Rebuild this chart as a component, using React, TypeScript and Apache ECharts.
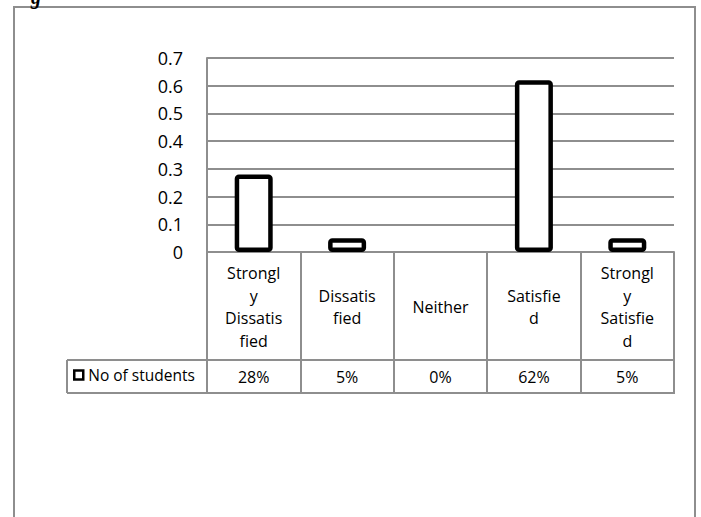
import React, { useEffect, useRef } from "react";
import * as echarts from "echarts";

// Satisfaction survey: share of students per response
const categoryLabels = [
  "Strongl\ny\nDissatis\nfied",
  "Dissatis\nfied",
  "Neither",
  "Satisfie\nd",
  "Strongl\ny\nSatisfie\nd",
];
const studentShares = [0.28, 0.05, 0, 0.62, 0.05];
const seriesName = "No of students";
const yMin = 0;
const yMax = 0.7;
const yStep = 0.1;

const FONT = "'Open Sans', Lato, sans-serif";
const GRID = "#8e8e8e";

export default function App() {
  const ref = useRef<HTMLDivElement>(null);

  useEffect(() => {
    if (!ref.current) return;
    const chart = echarts.init(ref.current, undefined, { renderer: "svg" });

    const percentLabels = studentShares.map((v) => `${Math.round(v * 100)}%`);

    const gridLeft = 207;
    const gridRight = 674;
    const axisY = 252;
    const rowSplitY = 360;
    const tableBottomY = 393;
    const legendCellLeft = 67;

    chart.setOption({
      animation: false,
      backgroundColor: "#fff",
      grid: {
        left: gridLeft,
        right: 701 - gridRight,
        top: 58,
        bottom: 517 - axisY,
        containLabel: false,
      },
      legend: {
        data: [seriesName],
        left: 73,
        top: 367,
        padding: 0,
        icon: "rect",
        itemWidth: 9,
        itemHeight: 9,
        itemStyle: { color: "#fff", borderColor: "#000", borderWidth: 2.5 },
        textStyle: { fontFamily: FONT, fontSize: 15.5, color: "#000", padding: [0, 0, 0, 0] },
      },
      xAxis: [
        {
          type: "category",
          data: categoryLabels,
          axisLine: { show: true, lineStyle: { color: GRID, width: 2 } },
          axisTick: {
            show: true,
            interval: 0,
            length: tableBottomY - axisY,
            lineStyle: { color: GRID, width: 2 },
          },
          axisLabel: {
            interval: 0,
            margin: 55,
            verticalAlign: "middle",
            lineHeight: 22.5,
            fontFamily: FONT,
            fontSize: 16,
            color: "#000",
          },
          splitLine: { show: false },
        },
        {
          type: "category",
          position: "bottom",
          data: percentLabels,
          axisLine: { show: false },
          axisTick: { show: false },
          axisLabel: {
            interval: 0,
            margin: 125,
            verticalAlign: "middle",
            fontFamily: FONT,
            fontSize: 16,
            color: "#000",
          },
          splitLine: { show: false },
        },
      ],
      yAxis: {
        type: "value",
        min: yMin,
        max: yMax,
        interval: yStep,
        axisLine: { show: true, lineStyle: { color: GRID, width: 2 } },
        axisTick: { show: false },
        splitLine: { show: true, lineStyle: { color: GRID, width: 2 } },
        axisLabel: {
          margin: 24,
          fontFamily: FONT,
          fontSize: 18,
          color: "#000",
          formatter: (v: number) => (v === 0 ? "0" : v.toFixed(1)),
        },
      },
      series: [
        {
          name: seriesName,
          type: "bar",
          xAxisIndex: 0,
          barWidth: 38,
          itemStyle: {
            color: "#fff",
            borderColor: "#000",
            borderWidth: 4.5,
            borderRadius: 2,
          },
          data: studentShares.map((v) =>
            v === 0 ? { value: v, itemStyle: { borderWidth: 0 } } : v
          ),
        },
      ],
      graphic: [
        // page frame
        {
          type: "polyline",
          silent: true,
          shape: { points: [[14, 517], [14, 7], [695, 7], [695, 517]] },
          style: { stroke: GRID, lineWidth: 2, fill: null },
        },
        // caption descender peeking above the frame
        {
          type: "text",
          x: 31,
          y: -13,
          silent: true,
          style: {
            text: "g",
            font: "bold italic 20px 'Liberation Serif', serif",
            fill: "#000",
          },
        },
        // data table rules
        {
          type: "line",
          silent: true,
          shape: { x1: legendCellLeft, y1: rowSplitY, x2: gridRight + 1, y2: rowSplitY },
          style: { stroke: GRID, lineWidth: 2 },
        },
        {
          type: "line",
          silent: true,
          shape: { x1: legendCellLeft, y1: tableBottomY, x2: gridRight + 1, y2: tableBottomY },
          style: { stroke: GRID, lineWidth: 2 },
        },
        {
          type: "line",
          silent: true,
          shape: { x1: legendCellLeft, y1: rowSplitY, x2: legendCellLeft, y2: tableBottomY },
          style: { stroke: GRID, lineWidth: 2 },
        },
      ],
    });

    return () => chart.dispose();
  }, []);

  return (
    <div
      ref={ref}
      style={{
        position: "fixed",
        left: 0,
        top: 0,
        width: 701,
        height: 517,
        fontVariantLigatures: "none",
      }}
    />
  );
}
